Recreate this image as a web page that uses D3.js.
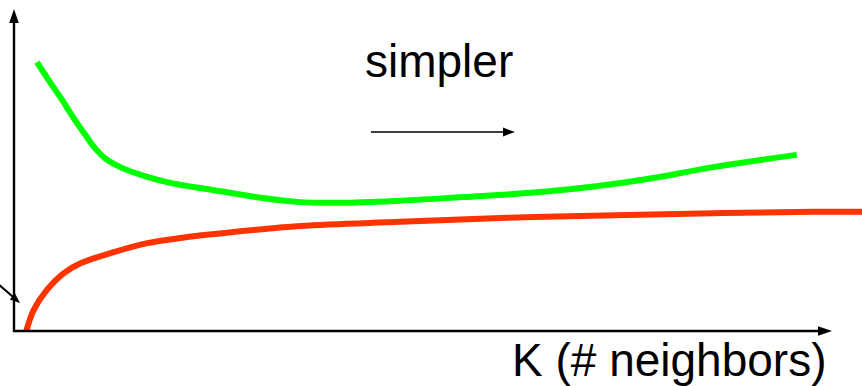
<!DOCTYPE html>
<html>
<head>
<meta charset="utf-8">
<script src="https://cdn.jsdelivr.net/npm/d3@7/dist/d3.min.js"></script>
<style>
  html, body { margin: 0; padding: 0; background: #fff; }
  svg { display: block; }
  text { font-family: "Liberation Sans", Arial, sans-serif; fill: #000; }
</style>
</head>
<body>
<div id="chart"></div>
<script>
// K (neighbours) vs error
var valK = [2.8, 4.4, 5.9, 7.3, 8.8, 9.9, 11.1, 13.0, 16.0, 19.1, 24.3, 30.4, 34.6, 39.9, 46.8, 54.9, 63.1, 70.4, 77.4, 85.5, 95.7];
var valErr = [83.5, 77.3, 71.7, 66.1, 60.6, 56.8, 53.7, 50.9, 48.1, 46.0, 43.8, 41.3, 40.1, 39.8, 40.4, 41.6, 42.9, 44.7, 47.2, 50.9, 54.7];

var trainK = [1.5, 2.4, 4.0, 6.1, 8.2, 12.2, 16.3, 20.4, 24.5, 35.0, 47.2, 59.4, 69.2, 85.5, 97.7, 103.7];
var trainErr = [0, 6.5, 12.7, 18.0, 21.1, 24.5, 27.3, 28.9, 30.1, 32.6, 33.9, 35.1, 35.7, 36.6, 37.0, 37.0];

var xLabel = "K (# neighbors)";
var hintLabel = "simpler";

var width = 862, height = 386;

var x = d3.scaleLinear().domain([0, 100]).range([14, 832]);
var y = d3.scaleLinear().domain([0, 100]).range([331, 9]);

var svg = d3.select("#chart").append("svg")
  .attr("width", width)
  .attr("height", height);

var line = d3.line()
  .x(function (d) { return x(d[0]); })
  .y(function (d) { return y(d[1]); })
  .curve(d3.curveCatmullRom.alpha(0.5));

svg.append("path")
  .datum(d3.zip(trainK, trainErr))
  .attr("d", line)
  .attr("fill", "none")
  .attr("stroke", "#ff3300")
  .attr("stroke-width", 6);

svg.append("path")
  .datum(d3.zip(valK, valErr))
  .attr("d", line)
  .attr("fill", "none")
  .attr("stroke", "#00ff00")
  .attr("stroke-width", 6);

// arrow helper: line from (x1,y1) to (x2,y2) with a filled head at the end
function arrow(x1, y1, x2, y2, sw, hl, hw) {
  var a = Math.atan2(y2 - y1, x2 - x1);
  var bx = x2 - hl * Math.cos(a), by = y2 - hl * Math.sin(a);
  svg.append("line")
    .attr("x1", x1).attr("y1", y1)
    .attr("x2", bx + Math.cos(a)).attr("y2", by + Math.sin(a))
    .attr("stroke", "#000")
    .attr("stroke-width", sw);
  var px = -Math.sin(a) * hw, py = Math.cos(a) * hw;
  svg.append("path")
    .attr("d", "M" + x2 + "," + y2 + "L" + (bx + px) + "," + (by + py) + "L" + (bx - px) + "," + (by - py) + "Z")
    .attr("fill", "#000");
}

// axes
arrow(x(0), y(0) + 1, x(0), y(100), 2.4, 14, 4.8);
arrow(x(0) - 1, y(0), x(100), y(0), 2.4, 14, 4.8);

// "simpler" direction
arrow(371, 132, 515, 132, 1.7, 12, 4.4);

// stray pointer at the left edge
arrow(-10, 277, 20, 303, 2, 10, 4);

svg.append("text")
  .attr("x", 365)
  .attr("y", 77)
  .attr("font-size", 46)
  .text(hintLabel);

svg.append("text")
  .attr("x", 512)
  .attr("y", 376)
  .attr("font-size", 46)
  .text(xLabel);
</script>
</body>
</html>
